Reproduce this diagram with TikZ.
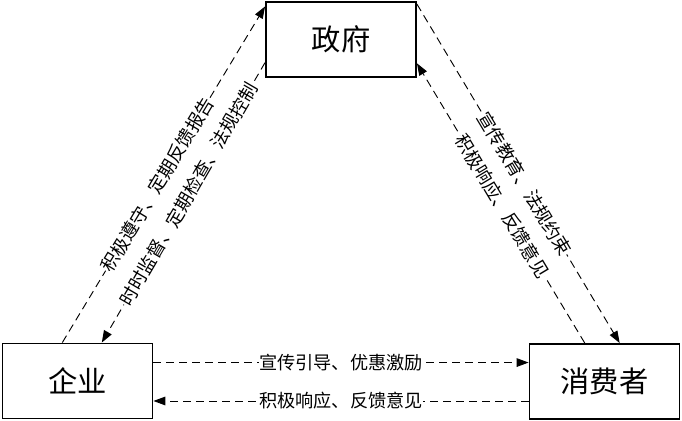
\documentclass[tikz,border=0pt]{standalone}
\usepackage{fontspec}
\newfontfamily\cjk{Noto Sans CJK SC}
\usetikzlibrary{arrows.meta,calc}
\tikzset{
      rolebox/.style={
        draw=black,
        line width=1.6pt,
        fill=white,
        minimum width=45mm,
        minimum height=22.5mm,
        inner sep=0pt,
        font=\cjk\fontsize{25}{30}\selectfont
      },
      flowline/.style={
        dashed,
        dash pattern=on 2.4mm off 1.5mm,
        line width=0.8pt,
        -{Triangle[length=3.6mm,width=2.6mm]}
      },
      flowtext/.style={
        fill=white,
        inner sep=0.5pt,
        sloped,
        font=\cjk\fontsize{15.5}{18}\selectfont
      }
    }

\begin{document}
\begin{tikzpicture}[x=0.3mm,y=-0.3mm]
    \useasboundingbox (0,0) rectangle (682,421);
    \node[rolebox] (gov) at (341,39.5) {政府};
    \node[rolebox] (ent) at (77.5,381) {企业};
    \node[rolebox] (con) at (604.5,381.5) {消费者};
    % left side
    \draw[flowline] ($(ent.north west)!0.4!(ent.north east)$) -- ($(gov.north west)!0.07!(gov.south west)$)
      node[flowtext, pos=0.47] {积极遵守、定期反馈报告};
    \draw[flowline] ($(gov.north west)!0.8!(gov.south west)$) -- ($(ent.north west)!0.66!(ent.north east)$)
      node[flowtext, pos=0.47] {时时监督、定期检查、法规控制};
    % right side
    \draw[flowline] ($(gov.north east)!0.04!(gov.south east)$) -- ($(con.north west)!0.6!(con.north east)$)
      node[flowtext, pos=0.53] {宣传教育、法规约束};
    \draw[flowline] ($(con.north west)!0.37!(con.north east)$) -- ($(gov.north east)!0.81!(gov.south east)$)
      node[flowtext, pos=0.49] {积极响应、反馈意见};
    % bottom
    \coordinate (e1) at ($(ent.north east)!0.26!(ent.south east)$);
    \coordinate (e2) at ($(ent.north east)!0.76!(ent.south east)$);
    \draw[flowline] (e1) -- (e1 -| con.west)
      node[flowtext, midway] {宣传引导、优惠激励};
    \draw[flowline] (e2 -| con.west) -- (e2)
      node[flowtext, midway] {积极响应、反馈意见};
\end{tikzpicture}
\end{document}
